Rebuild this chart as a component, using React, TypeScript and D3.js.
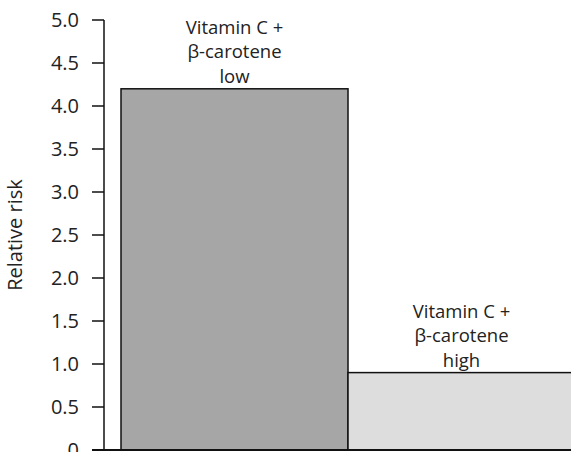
import React from "react";
import * as d3 from "d3";

const categories = ["low", "high"];
const values = [4.2, 0.9];
const labelLines = [
  ["Vitamin C +", "β-carotene", "low"],
  ["Vitamin C +", "β-carotene", "high"],
];
const fills = ["#a6a6a6", "#dddddd"];
const yTicks = [0, 0.5, 1.0, 1.5, 2.0, 2.5, 3.0, 3.5, 4.0, 4.5, 5.0];
const yTickLabels = ["0", "0.5", "1.0", "1.5", "2.0", "2.5", "3.0", "3.5", "4.0", "4.5", "5.0"];

export default function App() {
  const W = 571;
  const H = 452;
  const y = d3.scaleLinear().domain([0, 5]).range([450, 20]);
  const x = d3.scaleBand<string>().domain(categories).range([121, 575]).padding(0);
  const axisX = 104;
  const font = "'Open Sans', 'Noto Sans', sans-serif";
  const fs = 20;
  const labelFs = 18.5;
  const lineH = 24.5;
  return (
    <svg
      width={W}
      height={H}
      style={{ position: "absolute", left: 0, top: 0, background: "#fff" }}
      fontFamily={font}
    >
      <rect x={0} y={0} width={W} height={H} fill="#fff" />
      {categories.map((c, i) => (
        <rect
          key={c}
          x={x(c)!}
          y={y(values[i])}
          width={x.bandwidth()}
          height={y(0) - y(values[i])}
          fill={fills[i]}
          stroke="#111"
          strokeWidth={1.5}
        />
      ))}
      {categories.map((c, i) => {
        const cx = x(c)! + x.bandwidth() / 2;
        const top = y(values[i]);
        const lines = labelLines[i];
        return (
          <text key={"l" + c} textAnchor="middle" fontSize={labelFs} fill="#222">
            {lines.map((ln, j) => (
              <tspan key={j} x={cx} y={top - 6 - (lines.length - 1 - j) * lineH}>
                {ln}
              </tspan>
            ))}
          </text>
        );
      })}
      <line x1={axisX} x2={axisX} y1={y(5)} y2={y(0)} stroke="#111" strokeWidth={1.5} />
      <line x1={92} x2={W + 5} y1={y(0)} y2={y(0)} stroke="#111" strokeWidth={2} />
      {yTicks.map((t, i) => (
        <g key={t}>
          <line x1={92} x2={axisX} y1={y(t)} y2={y(t)} stroke="#111" strokeWidth={1.5} />
          <text x={79} y={y(t)} dy="0.36em" textAnchor="end" fontSize={fs} fill="#222">
            {yTickLabels[i]}
          </text>
        </g>
      ))}
      <text
        transform={`translate(22,${(y(0) + y(5)) / 2}) rotate(-90)`}
        textAnchor="middle"
        fontSize={fs}
        fill="#222"
      >
        Relative risk
      </text>
    </svg>
  );
}
